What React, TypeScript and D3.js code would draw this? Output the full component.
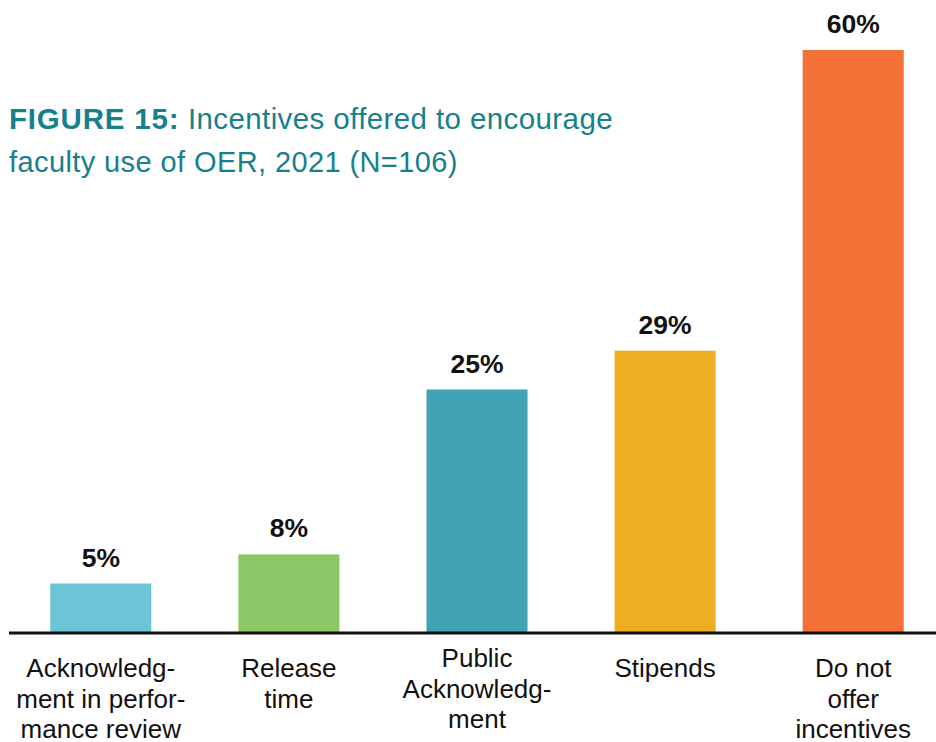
import React from "react";
import * as d3 from "d3";

const categories = [
  ["Acknowledg-", "ment in perfor-", "mance review"],
  ["Release", "time"],
  ["Public", "Acknowledg-", "ment"],
  ["Stipends"],
  ["Do not", "offer", "incentives"],
];
const values = [5, 8, 25, 29, 60];
const colors = ["#6cc4d6", "#8bc766", "#41a1b5", "#eeae22", "#f37134"];
const titleBold = "FIGURE 15:";
const titleLine1 = " Incentives offered to encourage";
const titleLine2 = "faculty use of OER, 2021 (N=106)";

const W = 936;
const H = 742;
const baseY = 632;
const font = "'Liberation Sans', Arial, Helvetica, sans-serif";

export default function App() {
  const idx = categories.map((_, i) => String(i));
  const x = d3.scaleBand().domain(idx).range([7, 947]).paddingInner(0.4628).paddingOuter(0.23);
  const y = d3.scaleLinear().domain([0, 60]).range([baseY, 50]);
  const labelOffsets = [0, 0, -10, 0, 0];
  return (
    <svg width={W} height={H} style={{ position: "absolute", left: 0, top: 0, background: "#fff" }}>
      <text x={9} y={129} fill="#16808d" fontFamily={font} fontSize={29.5} letterSpacing={0.4}>
        <tspan fontWeight="bold" letterSpacing={0.8}>{titleBold}</tspan>
        <tspan>{titleLine1}</tspan>
      </text>
      <text x={9} y={172} fill="#16808d" fontFamily={font} fontSize={29} letterSpacing={0.4}>
        {titleLine2}
      </text>
      {values.map((v, i) => {
        const bx = x(String(i))!;
        const bw = x.bandwidth();
        const cx = bx + bw / 2;
        return (
          <g key={i}>
            <rect x={bx} y={y(v)} width={bw} height={baseY - y(v)} fill={colors[i]} />
            <text x={cx} y={y(v) - 17} textAnchor="middle" fontFamily={font} fontWeight="bold" fontSize={26.5} fill="#111">
              {v}%
            </text>
            {categories[i].map((line, j) => (
              <text key={j} x={cx} y={677 + labelOffsets[i] + j * 30.5} textAnchor="middle" fontFamily={font} fontSize={26} fill="#111">
                {line}
              </text>
            ))}
          </g>
        );
      })}
      <line x1={9} x2={936} y1={633} y2={633} stroke="#111" strokeWidth={3.2} />
    </svg>
  );
}
